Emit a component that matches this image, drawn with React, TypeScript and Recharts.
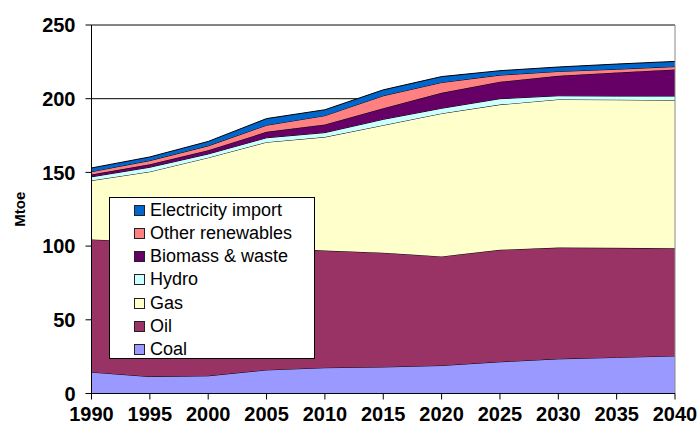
import React from "react";
import {
  AreaChart, Area, XAxis, YAxis, CartesianGrid, ReferenceLine, Legend,
} from "recharts";

const years = [1990, 1995, 2000, 2005, 2010, 2015, 2020, 2025, 2030, 2035, 2040];

const coal = [14.5, 11.5, 12, 16, 17.5, 18, 19, 21.5, 23.5, 24.5, 25.5];
const oil = [90, 91.5, 89, 83, 79.5, 77.5, 74, 76, 75.5, 74.3, 73];
const gas = [40, 47.5, 59, 71.5, 77, 86.5, 97, 98.5, 100.5, 100.5, 100.5];
const hydro = [2.5, 3, 2.5, 3, 3, 4, 3.5, 4, 2.5, 2.5, 2.8];
const biomass = [1.5, 2, 2.5, 4, 5.5, 7.5, 10.5, 11.5, 13.5, 16, 18];
const otherRen = [2, 2.5, 3, 4.5, 6, 8.5, 7, 4.5, 3, 2.2, 2];
const elecImport = [2.5, 2.5, 3, 4.5, 4, 4, 4, 3, 3, 3.5, 3.5];

const yTicks = [0, 50, 100, 150, 200, 250];

// bottom to top
const series = [
  { key: "coal", name: "Coal", values: coal, color: "#9999FF" },
  { key: "oil", name: "Oil", values: oil, color: "#993366" },
  { key: "gas", name: "Gas", values: gas, color: "#FFFFCC" },
  { key: "hydro", name: "Hydro", values: hydro, color: "#CCFFFF" },
  { key: "biomass", name: "Biomass & waste", values: biomass, color: "#660066" },
  { key: "other", name: "Other renewables", values: otherRen, color: "#FF8080" },
  { key: "elec", name: "Electricity import", values: elecImport, color: "#0066CC" },
];

const data = years.map((year, i) => {
  const row: Record<string, number> = { year };
  series.forEach(s => { row[s.key] = s.values[i]; });
  return row;
});

const FONT = "'Liberation Sans', Arial, sans-serif";

const LegendBox = () => (
  <div
    style={{
      width: 206, height: 162, background: "#fff", border: "1px solid #000",
      boxSizing: "border-box", position: "relative", fontFamily: FONT,
    }}
  >
    {[...series].reverse().map((s, i) => (
      <div
        key={s.key}
        style={{
          position: "absolute", left: 24, top: 12.3 + i * 23.2 - 11,
          height: 22, display: "flex", alignItems: "center",
        }}
      >
        <span
          style={{
            display: "inline-block", width: 11, height: 11, background: s.color,
            border: "1px solid #222", boxSizing: "border-box", marginRight: 5,
          }}
        />
        <span style={{ fontSize: 18, color: "#000", whiteSpace: "nowrap" }}>{s.name}</span>
      </div>
    ))}
  </div>
);

export default function App() {
  return (
    <div style={{ position: "absolute", left: 0, top: 0, width: 700, height: 435, background: "#fff" }}>
      <AreaChart
        width={700}
        height={435}
        data={data}
        margin={{ top: 25, right: 25, left: 31.5, bottom: 1.5 }}
      >
        <CartesianGrid stroke="#000" vertical={false} />
        <XAxis
          dataKey="year"
          type="number"
          domain={[1990, 2040]}
          ticks={years}
          height={40}
          tick={{ fill: "#000", fontSize: 20, fontWeight: "bold", fontFamily: FONT }}
          tickLine={{ stroke: "#000" }}
          axisLine={{ stroke: "#000" }}
          tickSize={6}
          tickMargin={7}
        />
        <YAxis
          domain={[0, 250]}
          ticks={yTicks}
          width={60}
          tick={{ fill: "#000", fontSize: 20, fontWeight: "bold", fontFamily: FONT }}
          tickLine={{ stroke: "#000" }}
          axisLine={{ stroke: "#000" }}
          tickSize={6}
          tickMargin={10}
          label={{
            value: "Mtoe", angle: -90, position: "insideLeft", offset: -12,
            style: { fill: "#000", fontSize: 15, fontWeight: "bold", fontFamily: FONT, textAnchor: "middle" },
          }}
        />
        {series.map(s => (
          <Area
            key={s.key}
            type="linear"
            dataKey={s.key}
            name={s.name}
            stackId="1"
            stroke="#000"
            strokeWidth={1}
            fill={s.color}
            fillOpacity={1}
            dot={false}
            activeDot={false}
            isAnimationActive={false}
          />
        ))}
        <ReferenceLine y={250} stroke="#888" strokeWidth={1} />
        <ReferenceLine x={2040} stroke="#888" strokeWidth={1} />
        <Legend
          layout="horizontal"
          verticalAlign="middle"
          wrapperStyle={{ left: 109, top: 197, width: 206, height: 162 }}
          content={() => <LegendBox />}
        />
      </AreaChart>
    </div>
  );
}
